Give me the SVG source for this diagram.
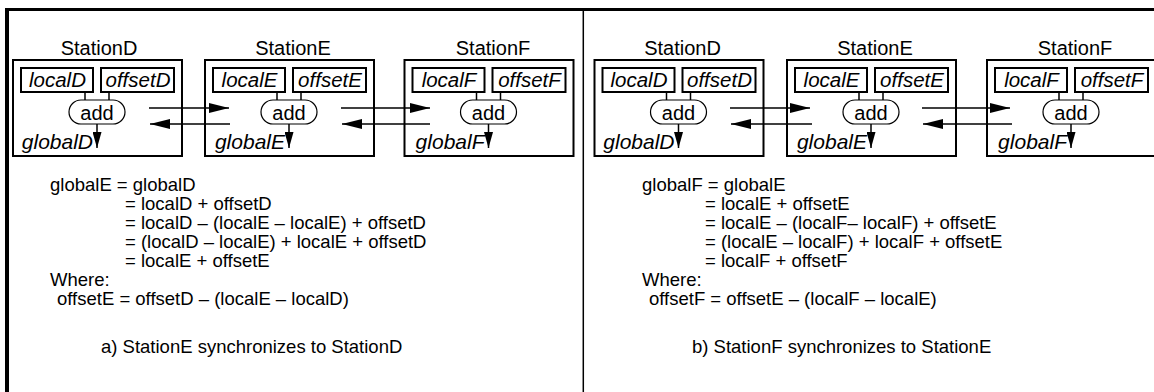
<svg xmlns="http://www.w3.org/2000/svg" width="1154" height="392" viewBox="0 0 1154 392">
<defs>
<style>
text{font-family:"Liberation Sans",Arial,sans-serif;fill:#000}
.lbl{font-size:20px;text-anchor:middle}
.it{font-size:21px;font-style:italic}
.itm{font-size:20.5px;font-style:italic;text-anchor:middle}
.eq{font-size:18.5px}
.st{fill:#fff;stroke:#000;stroke-width:2}
.bx{fill:#fff;stroke:#000;stroke-width:2}
.pill{fill:#fff;stroke:#000;stroke-width:1.2}
.ln{stroke:#000;stroke-width:1.5;fill:none}
</style>
<marker id="ah" viewBox="0 0 20 10" refX="20" refY="5" markerWidth="20" markerHeight="10" markerUnits="userSpaceOnUse" orient="auto">
<path d="M0,0 L20,5 L0,10 Z" fill="#000"/>
</marker>
<marker id="ad" viewBox="0 0 16 9" refX="16" refY="4.5" markerWidth="16" markerHeight="9" markerUnits="userSpaceOnUse" orient="auto">
<path d="M0,0 L16,4.5 L0,9 Z" fill="#000"/>
</marker>
</defs>
<rect x="0" y="0" width="1154" height="392" fill="#fff"/>
<g id="frame">
<line x1="5" y1="9.5" x2="1154" y2="9.5" stroke="#000" stroke-width="3"/>
<line x1="7" y1="8" x2="7" y2="392" stroke="#000" stroke-width="4"/>
<line x1="583.3" y1="11" x2="583.3" y2="392" stroke="#000" stroke-width="1.5"/>
</g>

<g id="a-stationD">
<text class="lbl" x="99" y="55">StationD</text>
<rect class="st" x="13" y="60" width="169" height="96"/>
<rect class="bx" x="21" y="68" width="72" height="24"/>
<text class="itm" x="57.5" y="87">localD</text>
<rect class="bx" x="101" y="68" width="73" height="24"/>
<text class="itm" x="138" y="87">offsetD</text>
<line class="ln" x1="85" y1="92" x2="85" y2="100"/>
<line class="ln" x1="109" y1="92" x2="109" y2="100"/>
<rect class="pill" x="69" y="100" width="56" height="24" rx="12"/>
<text class="lbl" x="97" y="119.5">add</text>
<line class="ln" x1="97" y1="124" x2="97" y2="148" marker-end="url(#ad)"/>
<text class="it" x="93" y="149" text-anchor="end">globalD</text>
</g>
<g id="a-stationE">
<text class="lbl" x="293" y="55">StationE</text>
<rect class="st" x="205" y="60" width="169" height="96"/>
<rect class="bx" x="213" y="68" width="72" height="24"/>
<text class="itm" x="249.5" y="87">localE</text>
<rect class="bx" x="293" y="68" width="73" height="24"/>
<text class="itm" x="330" y="87">offsetE</text>
<line class="ln" x1="277" y1="92" x2="277" y2="100"/>
<line class="ln" x1="301" y1="92" x2="301" y2="100"/>
<rect class="pill" x="261" y="100" width="56" height="24" rx="12"/>
<text class="lbl" x="289" y="119.5">add</text>
<line class="ln" x1="289" y1="124" x2="289" y2="148" marker-end="url(#ad)"/>
<text class="it" x="285" y="149" text-anchor="end">globalE</text>
</g>
<g id="a-stationF">
<text class="lbl" x="493" y="55">StationF</text>
<rect class="st" x="404.5" y="60" width="169" height="96"/>
<rect class="bx" x="412.5" y="68" width="72" height="24"/>
<text class="itm" x="449" y="87">localF</text>
<rect class="bx" x="492.5" y="68" width="73" height="24"/>
<text class="itm" x="529.5" y="87">offsetF</text>
<line class="ln" x1="476.5" y1="92" x2="476.5" y2="100"/>
<line class="ln" x1="500.5" y1="92" x2="500.5" y2="100"/>
<rect class="pill" x="460.5" y="100" width="56" height="24" rx="12"/>
<text class="lbl" x="488.5" y="119.5">add</text>
<line class="ln" x1="488.5" y1="124" x2="488.5" y2="148" marker-end="url(#ad)"/>
<text class="it" x="484.5" y="149" text-anchor="end">globalF</text>
</g>

<g id="b-stationD">
<text class="lbl" x="682.5" y="55">StationD</text>
<rect class="st" x="594.5" y="60" width="169" height="96"/>
<rect class="bx" x="602.5" y="68" width="72" height="24"/>
<text class="itm" x="639" y="87">localD</text>
<rect class="bx" x="682.5" y="68" width="73" height="24"/>
<text class="itm" x="719.5" y="87">offsetD</text>
<line class="ln" x1="666.5" y1="92" x2="666.5" y2="100"/>
<line class="ln" x1="690.5" y1="92" x2="690.5" y2="100"/>
<rect class="pill" x="650.5" y="100" width="56" height="24" rx="12"/>
<text class="lbl" x="678.5" y="119.5">add</text>
<line class="ln" x1="678.5" y1="124" x2="678.5" y2="148" marker-end="url(#ad)"/>
<text class="it" x="674.5" y="149" text-anchor="end">globalD</text>
</g>
<g id="b-stationE">
<text class="lbl" x="875" y="55">StationE</text>
<rect class="st" x="787" y="60" width="169" height="96"/>
<rect class="bx" x="795" y="68" width="72" height="24"/>
<text class="itm" x="831.5" y="87">localE</text>
<rect class="bx" x="875" y="68" width="73" height="24"/>
<text class="itm" x="912" y="87">offsetE</text>
<line class="ln" x1="859" y1="92" x2="859" y2="100"/>
<line class="ln" x1="883" y1="92" x2="883" y2="100"/>
<rect class="pill" x="843" y="100" width="56" height="24" rx="12"/>
<text class="lbl" x="871" y="119.5">add</text>
<line class="ln" x1="871" y1="124" x2="871" y2="148" marker-end="url(#ad)"/>
<text class="it" x="867" y="149" text-anchor="end">globalE</text>
</g>
<g id="b-stationF">
<text class="lbl" x="1075" y="55">StationF</text>
<rect class="st" x="987" y="60" width="169" height="96"/>
<rect class="bx" x="995" y="68" width="72" height="24"/>
<text class="itm" x="1031.5" y="87">localF</text>
<rect class="bx" x="1075" y="68" width="73" height="24"/>
<text class="itm" x="1112" y="87">offsetF</text>
<line class="ln" x1="1059" y1="92" x2="1059" y2="100"/>
<line class="ln" x1="1083" y1="92" x2="1083" y2="100"/>
<rect class="pill" x="1043" y="100" width="56" height="24" rx="12"/>
<text class="lbl" x="1071" y="119.5">add</text>
<line class="ln" x1="1071" y1="124" x2="1071" y2="148" marker-end="url(#ad)"/>
<text class="it" x="1067" y="149" text-anchor="end">globalF</text>
</g>

<g id="connectors">
<line class="ln" x1="149" y1="108" x2="229" y2="108" marker-end="url(#ah)"/>
<line class="ln" x1="230" y1="124" x2="150" y2="124" marker-end="url(#ah)"/>
<line class="ln" x1="341" y1="108" x2="430" y2="108" marker-end="url(#ah)"/>
<line class="ln" x1="430" y1="124" x2="342" y2="124" marker-end="url(#ah)"/>
<line class="ln" x1="730" y1="108" x2="810" y2="108" marker-end="url(#ah)"/>
<line class="ln" x1="812" y1="124" x2="731" y2="124" marker-end="url(#ah)"/>
<line class="ln" x1="922" y1="108" x2="1010" y2="108" marker-end="url(#ah)"/>
<line class="ln" x1="1012" y1="124" x2="923" y2="124" marker-end="url(#ah)"/>
</g>

<g id="eq-a">
<text class="eq" x="50" y="191">globalE = globalD</text>
<text class="eq" x="125" y="210">= localD + offsetD</text>
<text class="eq" x="125" y="229">= localD – (localE – localE) + offsetD</text>
<text class="eq" x="125" y="248">= (localD – localE) + localE + offsetD</text>
<text class="eq" x="125" y="267">= localE + offsetE</text>
<text class="eq" x="50" y="286">Where:</text>
<text class="eq" x="57" y="305">offsetE = offsetD – (localE – localD)</text>
<text class="eq" x="101" y="353">a) StationE synchronizes to StationD</text>
</g>
<g id="eq-b">
<text class="eq" x="642" y="191">globalF = globalE</text>
<text class="eq" x="705" y="210">= localE + offsetE</text>
<text class="eq" x="705" y="229">= localE – (localF– localF) + offsetE</text>
<text class="eq" x="705" y="248">= (localE – localF) + localF + offsetE</text>
<text class="eq" x="705" y="267">= localF + offsetF</text>
<text class="eq" x="642" y="286">Where:</text>
<text class="eq" x="649" y="305">offsetF = offsetE – (localF – localE)</text>
<text class="eq" x="692" y="353">b) StationF synchronizes to StationE</text>
</g>
</svg>
